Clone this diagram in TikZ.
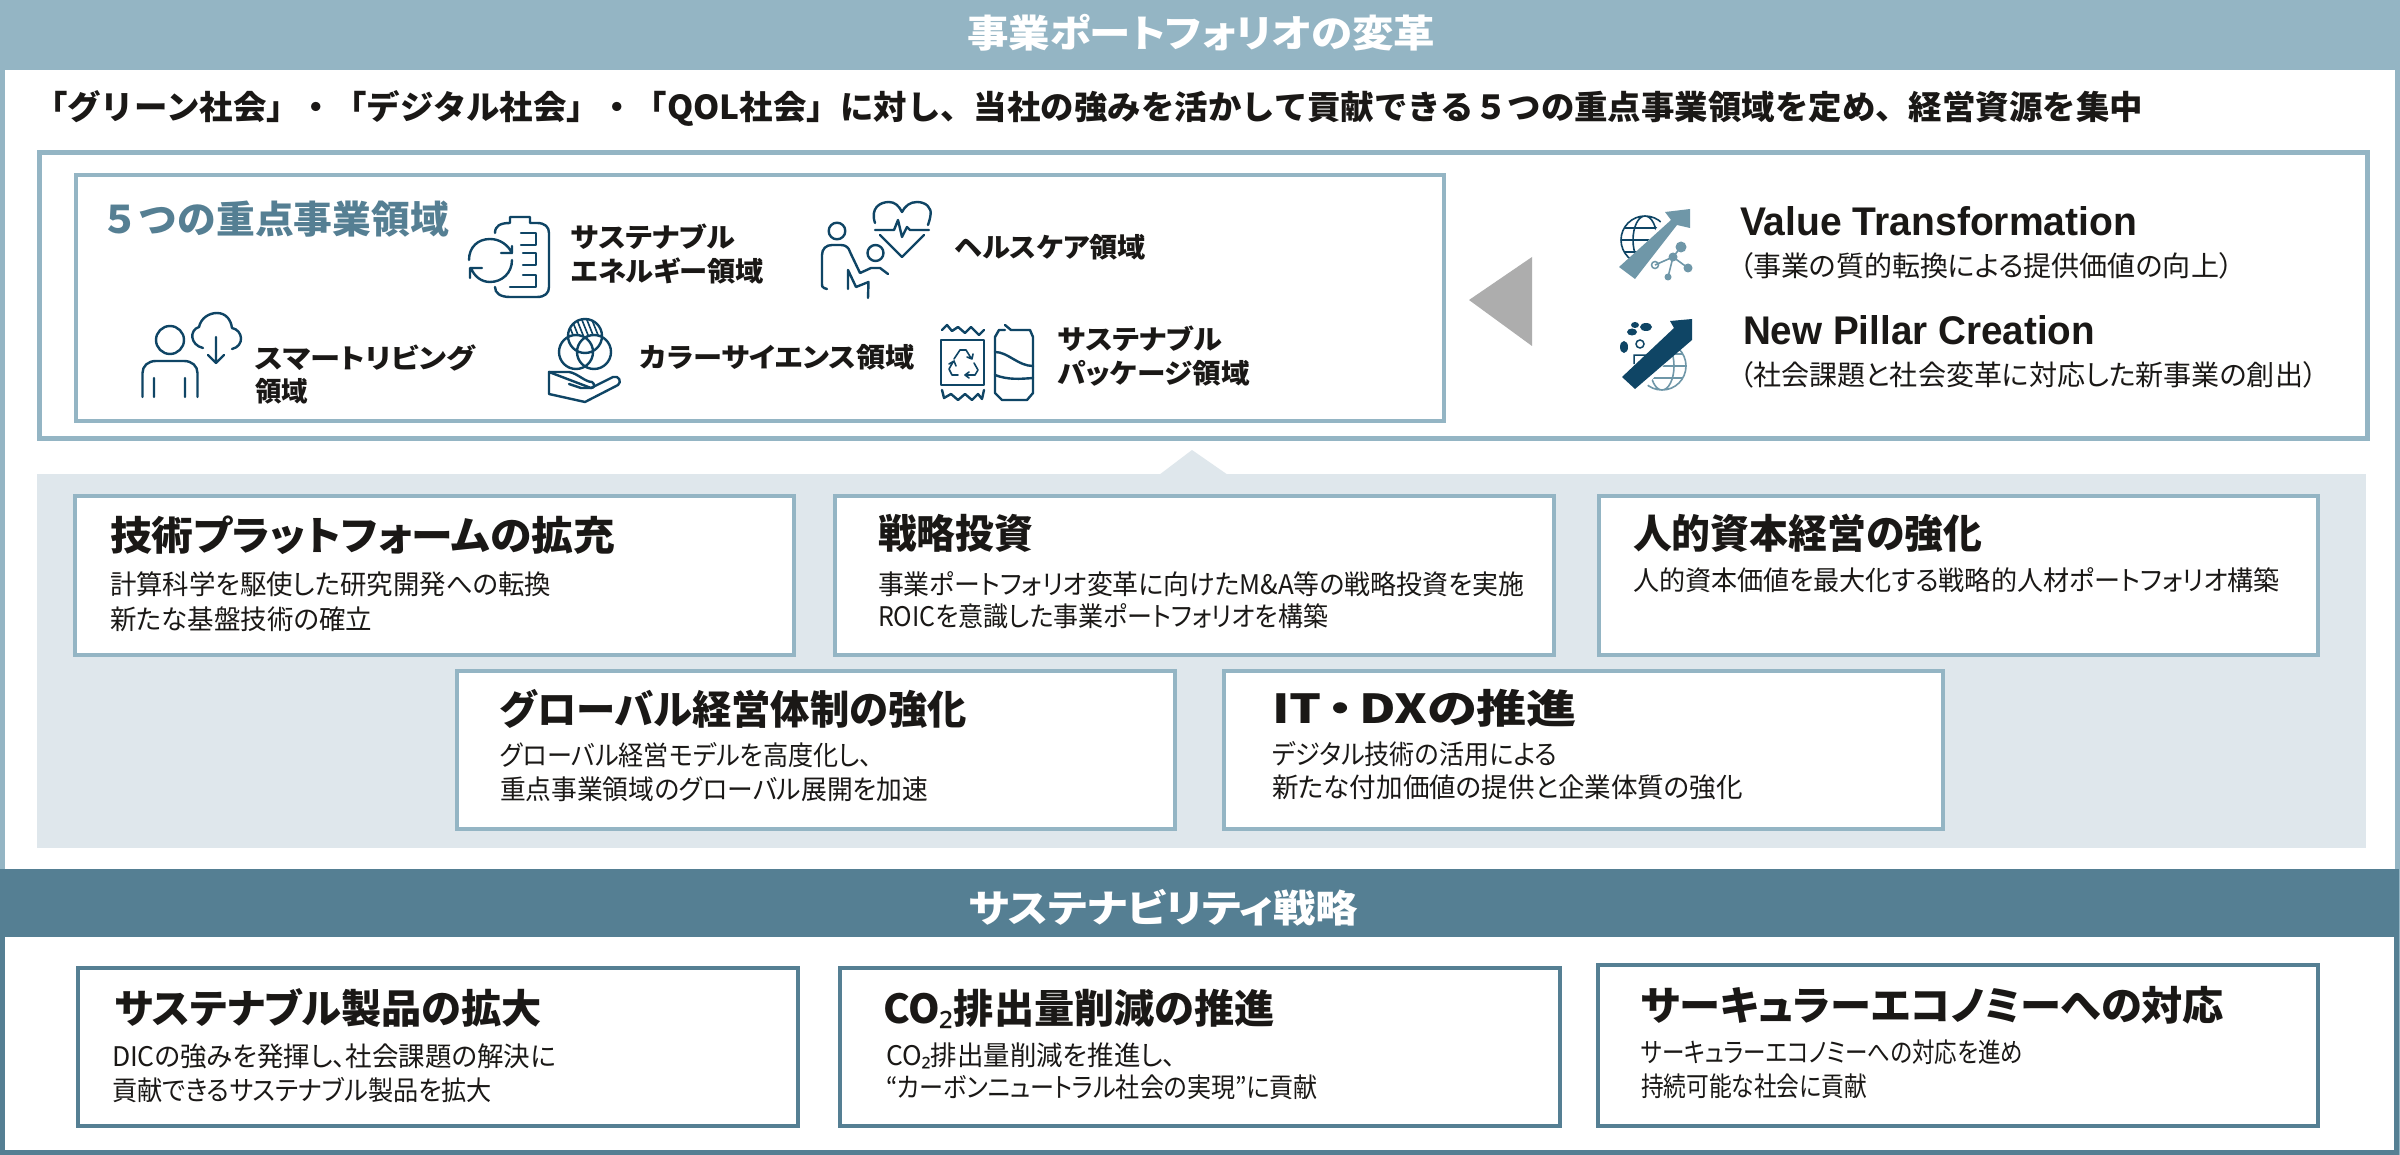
\documentclass[tikz,border=0pt]{standalone}
\usepackage{fontspec}
\usepackage{graphicx}
\setmainfont{Noto Sans CJK JP}[RawFeature=+palt]
\newfontfamily\fullfont{Noto Sans CJK JP}
\newfontfamily\latfont{Liberation Sans}
\newfontfamily\subfont{Noto Sans}
\definecolor{pale}{HTML}{94B5C4}
\definecolor{deep}{HTML}{557F93}
\definecolor{band}{HTML}{DFE7EC}
\definecolor{ink}{HTML}{1A1816}
\definecolor{iconc}{HTML}{0F4565}
\definecolor{iconl}{HTML}{6F97A8}
\definecolor{tri}{HTML}{ADADAD}
\tikzset{
  lab/.style={anchor=base west,inner sep=0pt,outer sep=0pt,text=ink},
  area/.style={rectangle,inner sep=0pt,outer sep=0pt},
  hdr/.style={area,fill=#1},
  palebox/.style={area,draw=pale,fill=white,line width=4pt},
  thickbox/.style={area,draw=pale,fill=white,line width=5pt},
  deepbox/.style={area,draw=deep,fill=white,line width=4pt},
  ic/.style={draw=iconc,line width=2.4pt,line cap=round,line join=round},
  icthin/.style={draw=iconc,line width=1.6pt,line cap=round,line join=round},
}
% name, x, centre y, width, font size, text
\newcommand{\Tx}[6]{\node[lab] (#1) at ({#2},{#3+0.36*#5}) {\resizebox{#4pt}{\height}{\fontsize{#5pt}{#5pt}\selectfont #6}};}
% name, x1, y1, x2, y2, style
\newcommand{\Bx}[6]{\node[#6,minimum width={(#4-#2)*1pt},minimum height={(#5-#3)*1pt}] (#1) at ({(#2+#4)/2},{(#3+#5)/2}) {};}
\newcommand{\subtwo}{{\subfont ₂}}
\begin{document}
\begin{tikzpicture}[x=1pt,y=-1pt]
\useasboundingbox (0,0) rectangle (2400,1155);
\fill[white] (0,0) rectangle (2400,1155);
% frames
\Bx{frameA}{2}{60}{2397}{880}{area,draw=pale,line width=5pt}
\Bx{frameC}{2398}{870}{2400}{1155}{hdr=pale}
\Bx{frameB}{2}{930}{2396.5}{1152.5}{area,draw=deep,line width=5pt}
\Bx{headA}{0}{0}{2400}{70}{hdr=pale}
\Bx{headB}{0}{869}{2399}{937}{hdr=deep}
\Tx{headAt}{967}{34}{468}{38}{\color{white}\bfseries 事業ポートフォリオの変革}
\Tx{headBt}{969}{909}{389}{38}{\color{white}\bfseries サステナビリティ戦略}
\Tx{sub}{34}{108}{2109}{33}{\fullfont\bfseries 「グリーン社会」・「デジタル社会」・「QOL社会」に対し、当社の強みを活かして貢献できる５つの重点事業領域を定め、経営資源を集中}
% upper panel
\Bx{panel}{39.5}{153}{2367.5}{438}{thickbox}
\Bx{five}{75.5}{175}{1444}{421}{palebox}
\fill[tri] (1469,300) -- (1532,257) -- (1532,346) -- cycle;
\Tx{fiveT}{100}{220}{349}{38}{\color{deep}\fullfont\bfseries ５つの重点事業領域}
\Tx{a1}{571}{238}{164}{27}{\bfseries サステナブル}
\Tx{a2}{571}{272}{193}{27}{\bfseries エネルギー領域}
\Tx{b1}{955}{248}{191}{27}{\bfseries ヘルスケア領域}
\Tx{c1}{255}{359}{220}{27}{\bfseries スマートリビング}
\Tx{c2}{255}{392}{53}{27}{\bfseries 領域}
\Tx{d1}{640}{358}{275}{27}{\bfseries カラーサイエンス領域}
\Tx{e1}{1058}{340}{164}{27}{\bfseries サステナブル}
\Tx{e2}{1058}{374}{192}{27}{\bfseries パッケージ領域}
\Tx{vt}{1740}{221}{397}{40}{\latfont\bfseries Value Transformation}
\Tx{vs}{1739}{266}{494}{28}{（事業の質的転換による提供価値の向上）}
\Tx{np}{1743}{330}{352}{40}{\latfont\bfseries New Pillar Creation}
\Tx{ns}{1739}{375}{578}{28}{（社会課題と社会変革に対応した新事業の創出）}
% icon: clipboard
\draw[ic] (495,233) .. controls (495,226) and (500,223) .. (510,223) -- (510,217) -- (530,217) -- (530,223) -- (537,223) .. controls (545,223) and (549,227) .. (549,233) -- (549,287) .. controls (549,293) and (545,297) .. (537,297) -- (510,297) .. controls (500,297) and (495,293) .. (495,287);
\draw[ic] (521,233) -- (536,233) -- (536,245) -- (521,245) (523,253) -- (536,253) -- (536,265) -- (523,265) (523,275) -- (536,275) -- (536,287) -- (510,287);
\draw[ic] (469,260) .. controls (469,247) and (478,239) .. (490,239) .. controls (500,239) and (508,245) .. (512,253) (501,253) -- (512,253) -- (512,246);
\draw[ic] (512,260) .. controls (512,273) and (502,282) .. (490,282) .. controls (481,282) and (474,276) .. (471,268) (470,278) -- (470,268) -- (482,268);
% icon: person and cloud
\draw[ic] (170,340) circle (14);
\draw[ic] (142.5,397) -- (142.5,373) .. controls (142.5,366) and (148,361) .. (156,361) -- (184,361) .. controls (192,361) and (197.5,366) .. (197.5,373) -- (197.5,397) (154,378) -- (154,397) (185,378) -- (185,397);
\draw[ic] (203,348) .. controls (190,345) and (189,330) .. (199,327) .. controls (201,318) and (209,313) .. (217,313) .. controls (226,313) and (231,320) .. (232,328) .. controls (243,330) and (245,346) .. (232,349);
\draw[ic] (216,337) -- (216,363) (208,355) -- (216,363) -- (224,355);
% icon: colour circles and hand
\begin{scope}
\clip (585,336) circle (17);
\foreach \k in {0,5,...,40} {\draw[icthin] ({565+\k},315) -- ({575+\k},340);}
\end{scope}
\fill[white] (576,352) circle (17) (594,352) circle (17);
\draw[ic] (585,336) circle (17) (576,352) circle (17) (594,352) circle (17);
\draw[ic] (549,372) -- (569,372) .. controls (577,373) and (585,382) .. (592,382) .. controls (595,384) and (595,388) .. (591,388) -- (581,388) -- (569,384);
\draw[ic] (591,388) -- (613,377) .. controls (619,375) and (622,382) .. (618,385) -- (585,402) -- (549,394) -- (549,372) -- cycle;
% icon: heart and persons
\draw[ic] (875,223) .. controls (870,208) and (880,202) .. (889,202) .. controls (895,202) and (899,206) .. (902,212) .. controls (905,206) and (910,202) .. (917,202) .. controls (926,202) and (932,208) .. (930.5,215) .. controls (930,219) and (929,222) .. (928,225);
\draw[ic] (875,230) -- (894,230) -- (898,220) -- (902,237) -- (907,227) -- (910,230) -- (929,230);
\draw[ic] (880,235) -- (902,257) -- (924,235);
\draw[ic] (837,231) circle (8.3) (875.5,253) circle (8);
\draw[ic] (827,289) -- (824,288) .. controls (822,287) and (822,286) .. (822,284) -- (822,255) .. controls (822,249) and (826,245) .. (832,245) -- (841,245) .. controls (846,245) and (849,248) .. (850,252) -- (860,273) -- (871,268) -- (880,268) -- (888,274);
\draw[ic] (848,289) -- (848,270) -- (856,287) -- (868.5,282) -- (868,298);
% icon: package and can
\draw[ic] (941,340) rectangle (984,385);
\draw[ic] (942,330) -- (947,325) -- (952,331) -- (958,327) -- (965,333) -- (971,327) -- (979,335) -- (984,330);
\draw[ic] (942,390) -- (944,398) -- (951,394) -- (958,400) -- (965,394) -- (972,400) -- (978,394) -- (982,399) -- (984,390);
\draw[icthin] (954,359) -- (960,350) -- (966,350) -- (971,358) (967,357) -- (972,359) -- (973,354);
\draw[icthin] (974,363) -- (978,370) -- (975,375) -- (966,375) (969,372) -- (965,375) -- (969,378);
\draw[icthin] (958,375) -- (952,375) -- (949,369) -- (953,362) (949,364) -- (954,361) -- (956,366);
\draw[ic] (1005,325) -- (1011,330) -- (1030,330) -- (1033,337) -- (1033,393) -- (1027,400) -- (1002,400) -- (995,393) -- (995,337) -- (999,330) -- (1005,330);
\draw[ic] (995,352) .. controls (1008,352) and (1018,366) .. (1033,366);
\draw[ic] (995,375) .. controls (1008,380) and (1020,379) .. (1033,378);
% icon: Value Transformation
\begin{scope}
\clip (1615,205) -- (1672,205) -- (1625,275) -- (1615,275) -- cycle;
\draw[iconc,line width=1.6pt] (1645,240) circle (24) (1645,240) ellipse (12 and 24) (1621,240) -- (1669,240) (1624,228) -- (1666,228) (1624,252) -- (1666,252);
\end{scope}
\fill[iconl] (1619,267) -- (1635,279) -- (1677,225) -- (1690,228) -- (1690,209) -- (1665,212) -- (1671,220) -- cycle;
\draw[iconl,line width=1.6pt] (1681,247) -- (1673,257) -- (1688,268) (1673,257) -- (1668,277) (1673,257) -- (1655,265);
\fill[iconl] (1681,247) circle (5.5) (1688,268) circle (4.5) (1668,277) circle (3.5) (1673,257) circle (4.5);
\draw[iconl,line width=1.5pt] (1655,265) circle (3.5);
% icon: New Pillar Creation
\begin{scope}
\clip (1692,395) -- (1640,395) -- (1692,330) -- cycle;
\draw[iconl,line width=1.6pt] (1662,366) circle (24) (1662,366) ellipse (12 and 24) (1638,366) -- (1686,366) (1641,354) -- (1683,354) (1641,378) -- (1683,378);
\end{scope}
\fill[iconc] (1622,377) -- (1635,389) -- (1692,340) -- (1692,319) -- (1670,321) -- (1674,328) -- cycle;
\fill[iconc] (1646,327) ellipse (6 and 4) (1632,332) ellipse (5 and 3.5) (1624,347) ellipse (4 and 6) (1635,325) ellipse (4 and 3);
\draw[iconc,line width=1.5pt] (1640,344) circle (4) (1634,364) -- (1634,355) -- (1648,355);
% middle band
\Bx{bandA}{37}{474}{2366}{848}{hdr=band}
\fill[band] (1159,475) -- (1192,450) -- (1228,475) -- cycle;
% boxes
\Bx{p1}{75}{496}{794}{655}{palebox}
\Bx{p2}{835}{496}{1554}{655}{palebox}
\Bx{p3}{1599}{496}{2318}{655}{palebox}
\Bx{p4}{457}{671}{1175}{829}{palebox}
\Bx{p5}{1224}{671}{1943}{829}{palebox}
\Tx{p1t}{110}{536}{505}{40}{\bfseries 技術プラットフォームの拡充}
\Tx{p1a}{110}{585}{441}{27}{計算科学を駆使した研究開発への転換}
\Tx{p1b}{110}{620}{262}{27}{新たな基盤技術の確立}
\Tx{p2t}{878}{534}{155}{40}{\bfseries 戦略投資}
\Tx{p2a}{878}{585}{646}{27}{事業ポートフォリオ変革に向けたM\&A等の戦略投資を実施}
\Tx{p2b}{878}{617}{450}{27}{ROICを意識した事業ポートフォリオを構築}
\Tx{p3t}{1633}{534}{349}{40}{\bfseries 人的資本経営の強化}
\Tx{p3a}{1633}{581}{647}{27}{人的資本価値を最大化する戦略的人材ポートフォリオ構築}
\Tx{p4t}{500}{710}{467}{40}{\bfseries グローバル経営体制の強化}
\Tx{p4a}{500}{756}{372}{27}{グローバル経営モデルを高度化し、}
\Tx{p4b}{500}{790}{428}{27}{重点事業領域のグローバル展開を加速}
\Tx{p5t}{1272}{709}{305}{40}{\bfseries IT\kern5pt・\kern5pt DXの推進}
\Tx{p5a}{1272}{755}{285}{27}{デジタル技術の活用による}
\Tx{p5b}{1272}{788}{471}{27}{新たな付加価値の提供と企業体質の強化}
% lower boxes
\Bx{q1}{77.5}{968}{798}{1126}{deepbox}
\Bx{q2}{840}{968}{1560}{1126}{deepbox}
\Bx{q3}{1598}{965}{2318}{1126}{deepbox}
\Tx{q1t}{115}{1009}{427}{40}{\bfseries サステナブル製品の拡大}
\Tx{q1a}{112}{1057}{444}{27}{DICの強みを発揮し、社会課題の解決に}
\Tx{q1b}{112}{1091}{380}{27}{貢献できるサステナブル製品を拡大}
\Tx{q2t}{883}{1009}{392}{40}{\bfseries CO\subtwo 排出量削減の推進}
\Tx{q2a}{886}{1056}{290}{27}{CO\subtwo 排出量削減を推進し、}
\Tx{q2b}{886}{1088}{432}{27}{“カーボンニュートラル社会の実現”に貢献}
\Tx{q3t}{1641}{1006}{583}{40}{\bfseries サーキュラーエコノミーへの対応}
\Tx{q3a}{1641}{1053}{382}{27}{サーキュラーエコノミーへの対応を進め}
\Tx{q3b}{1641}{1087}{226}{27}{持続可能な社会に貢献}
\end{tikzpicture}
\end{document}
